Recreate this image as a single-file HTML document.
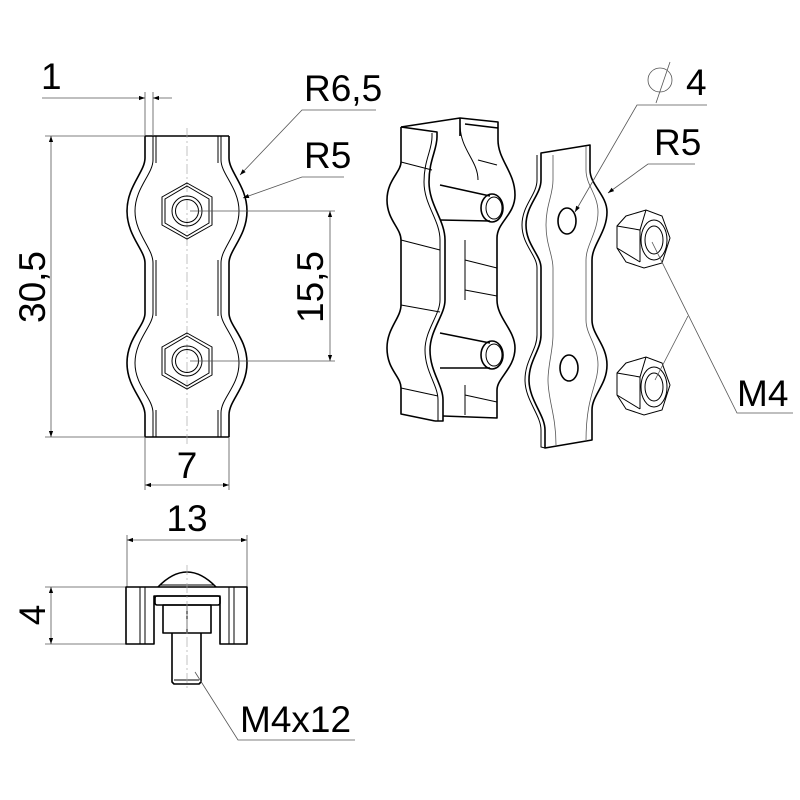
<!DOCTYPE html>
<html><head><meta charset="utf-8"><style>
html,body{margin:0;padding:0;background:#fff}
svg{display:block}
text{font-family:"Liberation Sans",sans-serif;font-size:37px;fill:#000}
.o{fill:none;stroke:#000;stroke-width:1.6;stroke-linejoin:round}
.t{fill:none;stroke:#000;stroke-width:1}
.d{fill:none;stroke:#555;stroke-width:0.8}
.c{fill:none;stroke:#aaa;stroke-width:0.7;stroke-dasharray:10 3 2 3}
</style></head><body>
<svg width="800" height="800" viewBox="0 0 800 800" xmlns="http://www.w3.org/2000/svg">
<defs>
<marker id="a" viewBox="0 0 10 10" refX="10" refY="5" markerWidth="10" markerHeight="6" orient="auto-start-reverse" markerUnits="userSpaceOnUse"><path d="M0,1.5 L10,5 L0,8.5z" fill="#000"/></marker>
</defs>

<!-- FRONT VIEW -->
<g id="half">
<path class="o" d="M145,136 L145,158 C145,172 127,186 127,211 C127,236 145,250 145,263 L145,313 C145,326 127,338 127,363 C127,388 145,400 145,415 L145,437"/>
<path class="t" d="M153,136 L153,160 C153,174 135,188 135,211 C135,234 153,248 153,263 L153,313 C153,326 135,340 135,363 C135,386 153,398 153,413 L153,437"/>
<path class="t" d="M156,136 L156,163 M156,260 L156,316 M156,410 L156,437"/>
</g>
<use href="#half" transform="translate(374,0) scale(-1,1)"/>
<line class="o" x1="145" y1="136" x2="229" y2="136"/>
<line class="o" x1="145" y1="437" x2="229" y2="437"/>
<line class="c" x1="187" y1="128" x2="187" y2="445"/>
<g id="nut">
<polygon class="t" points="187,183 212,197 212,225 187,239 162,225 162,197"/>
<polygon class="t" points="187,186 209,199 209,223 187,236 165,223 165,199"/>
<circle class="t" cx="187" cy="211" r="15"/>
<circle class="t" cx="187" cy="211" r="11.5"/>
</g>
<use href="#nut" transform="translate(0,150)"/>

<!-- dims front -->
<line class="d" x1="145" y1="92" x2="145" y2="136"/>
<line class="d" x1="153" y1="92" x2="153" y2="136"/>
<line class="d" x1="42" y1="98" x2="145" y2="98" marker-end="url(#a)"/>
<line class="d" x1="153" y1="98" x2="172" y2="98" marker-start="url(#a)"/>
<text x="41" y="89">1</text>

<line class="d" x1="45" y1="136" x2="145" y2="136"/>
<line class="d" x1="45" y1="437" x2="145" y2="437"/>
<line class="d" x1="51" y1="136" x2="51" y2="437" marker-start="url(#a)" marker-end="url(#a)"/>
<text transform="translate(45,287) rotate(-90)" text-anchor="middle">30,5</text>

<line class="d" x1="190" y1="211" x2="335" y2="211"/>
<line class="d" x1="190" y1="361" x2="335" y2="361"/>
<line class="d" x1="330" y1="211" x2="330" y2="361" marker-start="url(#a)" marker-end="url(#a)"/>
<text transform="translate(323,287) rotate(-90)" text-anchor="middle">15,5</text>

<line class="d" x1="145" y1="437" x2="145" y2="490"/>
<line class="d" x1="229" y1="437" x2="229" y2="490"/>
<line class="d" x1="145" y1="485" x2="229" y2="485" marker-start="url(#a)" marker-end="url(#a)"/>
<text x="187" y="478" text-anchor="middle">7</text>

<text x="304" y="101">R6,5</text>
<polyline class="d" points="376,110 302,110 240,175" marker-end="url(#a)"/>
<text x="304" y="168">R5</text>
<polyline class="d" points="344,177 302,177 243,198" marker-end="url(#a)"/>

<!-- SIDE VIEW -->
<line class="d" x1="127" y1="535" x2="127" y2="587"/>
<line class="d" x1="247" y1="535" x2="247" y2="587"/>
<line class="d" x1="127" y1="540" x2="247" y2="540" marker-start="url(#a)" marker-end="url(#a)"/>
<text x="187" y="531" text-anchor="middle">13</text>
<line class="d" x1="45" y1="587" x2="126" y2="587"/>
<line class="d" x1="45" y1="644" x2="126" y2="644"/>
<line class="d" x1="51" y1="587" x2="51" y2="644" marker-start="url(#a)" marker-end="url(#a)"/>
<text transform="translate(45,615) rotate(-90)" text-anchor="middle">4</text>

<path class="o" d="M158,587 Q187,557 216,587"/>
<path class="t" d="M160,585 L214,585"/>
<path class="o" d="M126,587 L247,587 L247,644 L220,644 L220,596 L154,596 L154,644 L126,644 Z"/>
<line class="t" x1="140" y1="587" x2="140" y2="644"/>
<line class="t" x1="145" y1="587" x2="145" y2="644"/>
<line class="t" x1="229" y1="587" x2="229" y2="644"/>
<line class="t" x1="234" y1="587" x2="234" y2="644"/>
<rect class="o" x="155" y="596" width="65" height="9" rx="2"/>
<rect class="o" x="163" y="605" width="48" height="28"/>
<line class="t" x1="187" y1="605" x2="187" y2="633"/>
<path class="o" d="M172,633 L172,682 L174,684 L199,684 L201,682 L201,633"/>
<line class="t" x1="174" y1="680" x2="199" y2="680"/>
<line class="c" x1="187" y1="565" x2="187" y2="690"/>
<polyline class="d" points="195,672 238,740 355,740"/>
<text x="240" y="732">M4x12</text>

<!-- EXPLODED: channel -->
<path class="o" d="M401,127 L401,162 C401,172 387,180 387,200 C387,220 401,228 401,240 L401,305 C401,318 387,328 387,348 C387,370 401,376 401,388 L401,414 L435,421"/>
<path class="o" d="M401,127 L460,118 L498,122 L498,128 M460,118 L460,136 M465,124 L498,128"/>
<path class="o" d="M401,127 L437,132 L437,137 C437,150 429,160 429,182 C429,205 445,220 445,240 L445,300 C445,315 430,330 430,350 C430,372 443,385 443,400 L443,421 L435,421"/>
<path class="t" d="M432,133 L432,137 C432,150 424,160 424,182 C424,205 440,220 440,240 L440,300 C440,315 425,330 425,350 C425,372 438,385 438,400 L438,421"/>
<path class="o" d="M498,128 L498,140 C498,160 515,172 515,195 C515,215 497,222 497,238 L497,300 C497,318 515,330 515,348 C515,368 497,378 497,390 L497,418 L443,416"/>
<path class="t" d="M460,124 C460,150 478,160 478,180 M465,240 L465,300 M465,385 L465,415"/>
<path class="t" d="M401,162 L432,170 M401,240 L440,250 M401,305 L440,312 M401,388 L438,396 M478,160 L497,165 M465,260 L497,268 M465,290 L497,296 M465,395 L497,402"/>
<path class="o" d="M440,185 L490,196 M440,220 L490,221"/>
<ellipse class="o" cx="492" cy="208" rx="11" ry="14"/>
<ellipse class="t" cx="494" cy="208" rx="8" ry="11"/>
<path class="o" d="M440,333 L490,343 M440,368 L490,368"/>
<ellipse class="o" cx="492" cy="355" rx="11" ry="14"/>
<ellipse class="t" cx="494" cy="355" rx="8" ry="11"/>

<!-- EXPLODED: plate -->
<path class="o" d="M541,153 L590,145 L590,170 C590,185 607,195 607,212 C607,232 592,245 592,260 L592,320 C592,335 607,345 607,365 C607,385 592,395 592,410 L592,440 L545,448 L545,430 C545,415 529,400 529,380 C529,360 541,350 541,335 L541,268 C541,255 526,245 526,225 C526,205 541,195 541,180 Z"/>
<path class="t" d="M537,155 L537,180 C537,195 522,205 522,225 C522,245 537,255 537,268 L537,335 C537,350 525,360 525,380 C525,400 541,415 541,430 L541,447 L545,448"/>
<path class="d" d="M553,155 L553,180 C553,195 546,205 546,225 C546,245 553,255 553,268 L553,335 C553,350 548,365 548,380 C548,400 556,415 556,445 M586,146 L586,170 C586,185 598,195 598,212 C598,232 586,245 586,260 L586,320 C586,335 598,345 598,365 C598,385 586,395 586,441"/>
<ellipse class="o" cx="567" cy="221" rx="9" ry="13"/>
<ellipse class="o" cx="569" cy="368" rx="9" ry="13"/>

<!-- nuts -->
<g id="inut">
<path class="t" stroke-width="1.3" d="M626,216 L646,210 L662,216 L670,238 L662,263 L644,268 L626,262 L617,248 L617,226 Z"/>
<path class="t" stroke-width="0.8" d="M617,226 L640,230 L646,210 M640,230 L640,262 M617,248 L640,262"/>
<ellipse class="t" stroke-width="1.2" cx="654" cy="240" rx="13" ry="20"/>
<ellipse class="t" stroke-width="0.8" cx="654" cy="240" rx="9" ry="14"/>
</g>
<use href="#inut" transform="translate(0,147)"/>

<!-- right labels -->
<circle class="d" cx="660" cy="80" r="12"/>
<line class="d" x1="670" y1="62" x2="656" y2="103"/>
<text x="686" y="95">4</text>
<polyline class="d" points="707,105 637,105 575,212" marker-end="url(#a)"/>
<text x="654" y="155">R5</text>
<polyline class="d" points="695,164 648,164 608,193" marker-end="url(#a)"/>
<polyline class="d" points="652,242 737,413 793,413"/>
<line class="d" x1="688" y1="316" x2="655" y2="380"/>
<text x="737" y="406">M4</text>
</svg>
</body></html>
